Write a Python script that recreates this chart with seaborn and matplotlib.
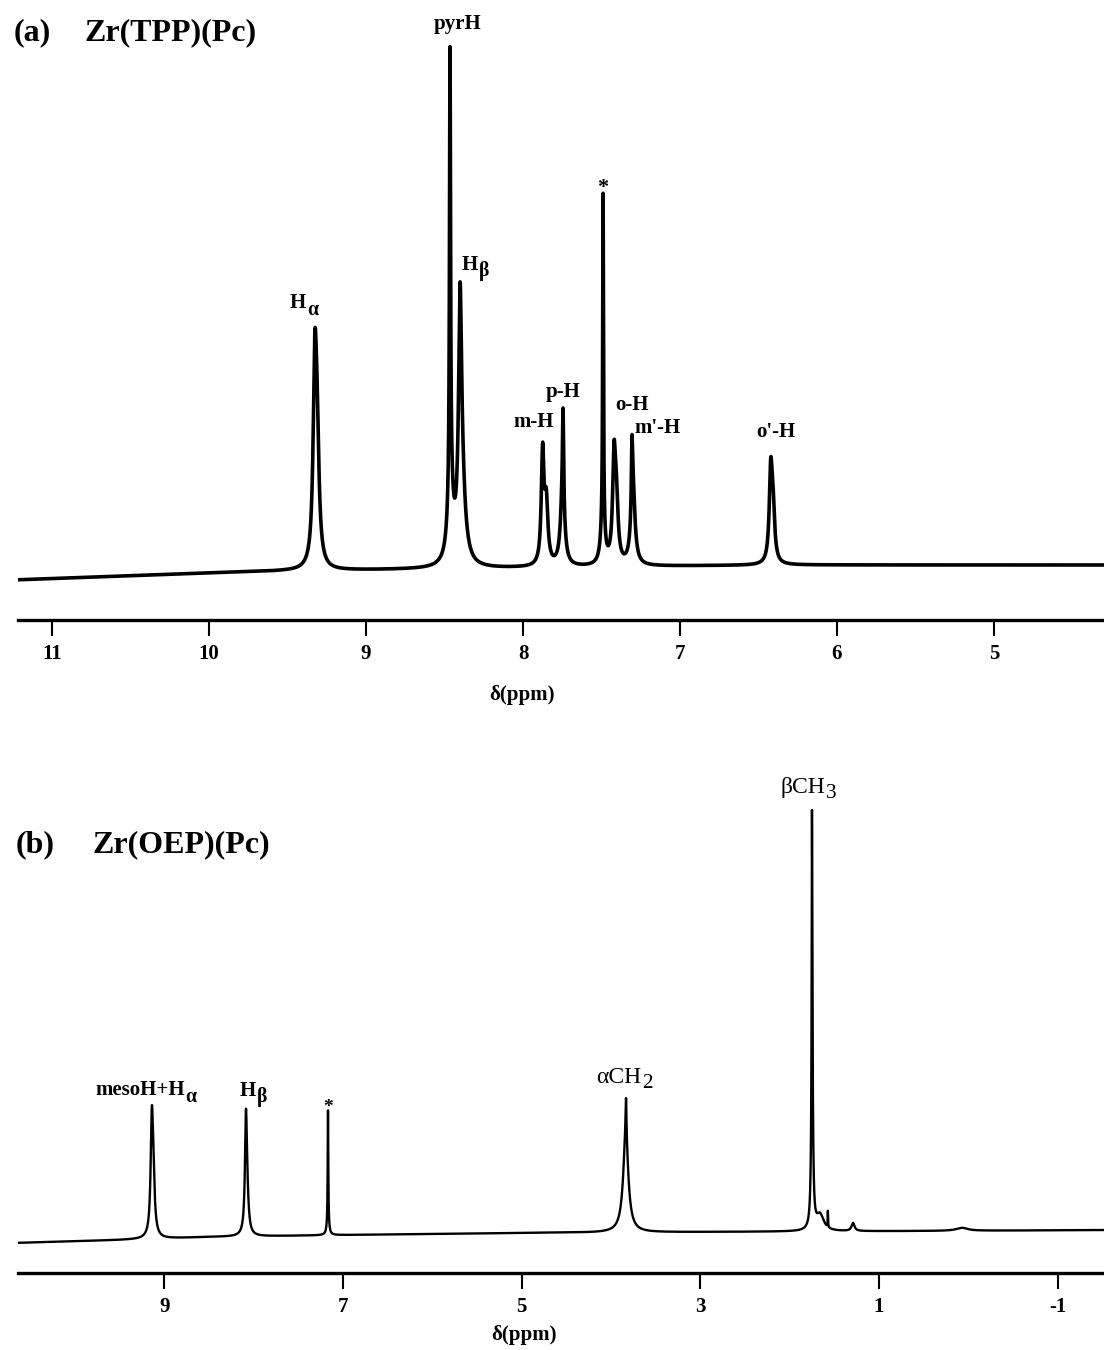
import numpy as np
import matplotlib
matplotlib.use("Agg")
import matplotlib.pyplot as plt
from matplotlib.transforms import IdentityTransform
import seaborn as sns

# ---------------- data ----------------
# (a) Zr(TPP)(Pc): peak components (ppm, amplitude, FWHM in ppm)
a_centers = [9.326, 9.312, 8.465, 8.462, 8.401, 8.390, 7.875, 7.852, 7.745, 7.748,
             7.490, 7.492, 7.420, 7.405, 7.306, 7.300, 6.422, 6.408]
a_heights = [180, 110, 440, 70, 215, 75, 110, 60, 85, 75,
             330, 40, 100, 55, 60, 80, 85, 50]
a_widths = [0.026, 0.030, 0.008, 0.040, 0.022, 0.050, 0.020, 0.025, 0.008, 0.030,
            0.006, 0.030, 0.022, 0.025, 0.008, 0.030, 0.022, 0.025]
a_base_ppm = [4.2, 6.3, 7.0, 8.0, 9.0, 9.5, 10.0, 11.25]
a_base_val = [1, 1, 0, -2, -4, -5, -7, -14]
a_ticks = [11, 10, 9, 8, 7, 6, 5]
a_ticklabels = ["11", "10", "9", "8", "7", "6", "5"]

# (b) Zr(OEP)(Pc)
b_centers = [9.142, 9.128, 8.088, 8.078, 7.169, 7.169, 3.835, 3.832,
             1.750, 1.748, 1.660, 1.572, 1.290, 0.070]
b_heights = [95, 55, 95, 40, 115, 10, 95, 40,
             220, 205, 16, 16, 8, 3]
b_widths = [0.030, 0.040, 0.025, 0.040, 0.008, 0.030, 0.070, 0.012,
            0.006, 0.020, 0.100, 0.005, 0.040, 0.150]
b_base_ppm = [-1.6, 0.5, 3.0, 5.0, 7.0, 8.5, 9.5, 10.7]
b_base_val = [2, 1, 0, -1, -3, -5, -8, -11]
b_ticks = [9, 7, 5, 3, 1, -1]
b_ticklabels = ["9", "7", "5", "3", "1", "-1"]


def lorentz(x, x0, w):
    return 1.0 / (1.0 + ((x - x0) / (w / 2.0)) ** 2)


def spectrum(grid, centers, heights, widths, bppm, bval):
    y = np.interp(grid, bppm, bval)
    for c, h, w in zip(centers, heights, widths):
        y = y + h * lorentz(grid, c, w)
    return y


# ---------------- style ----------------
sns.set_theme(style="white")
plt.rcParams["font.family"] = ["Liberation Serif", "DejaVu Serif"]
plt.rcParams["text.color"] = "black"

W, H = 1104, 1350
fig = plt.figure(figsize=(W / 100, H / 100), dpi=100)
fig.patch.set_facecolor("white")
renderer = fig.canvas.get_renderer()


def px_axes(x0, y0, x1, y1):
    return fig.add_axes([x0 / W, 1 - y1 / H, (x1 - x0) / W, (y1 - y0) / H])


def style_axis(ax, ticks, labels):
    for s in ["left", "right", "top"]:
        ax.spines[s].set_visible(False)
    ax.spines["bottom"].set_linewidth(2.4)
    ax.spines["bottom"].set_color("black")
    ax.set_yticks([])
    ax.set_xticks(ticks)
    ax.set_xticklabels(labels, fontsize=15, fontweight="bold")
    ax.tick_params(axis="x", direction="out", length=11.5, width=1.5,
                   color="black", pad=6, labelcolor="black", bottom=True)
    ax.set_facecolor("none")
    ax.set_xlabel("")
    ax.set_ylabel("")
    ax.grid(False)


def sub_label(ax, x, y, main, sub, fs, weight="bold", ha="left",
              dy=7, sub_scale=0.95):
    """main text with a large, lowered subscript (as in the original figure)"""
    t = ax.text(x, y, main, ha="left", va="baseline", fontsize=fs,
                fontweight=weight, color="black")
    bb = t.get_window_extent(renderer)
    s = ax.text(bb.x1 + 1, 0, sub, ha="left", va="baseline",
                fontsize=fs * sub_scale, fontweight=weight, color="black",
                transform=IdentityTransform())
    sb = s.get_window_extent(renderer)
    xd, yd = ax.transData.transform((x, y))
    shift = 0.0
    if ha == "center":
        shift = (sb.x1 - bb.x0) / 2.0
    t.set_transform(IdentityTransform())
    t.set_position((xd - shift, yd))
    s.set_position((bb.x1 + 1 - shift, yd - dy))


# ---------- panel (a) ----------
axa = px_axes(18, 0, W, 620)
xa_lo, xa_hi = 4.299, 11.217
grid_a = np.linspace(xa_hi, xa_lo, 30000)
ya = spectrum(grid_a, a_centers, a_heights, a_widths, a_base_ppm, a_base_val)
sns.lineplot(x=grid_a, y=ya, ax=axa, color="black", linewidth=2.6,
             estimator=None, sort=False)
axa.set_xlim(xa_hi, xa_lo)
axa.set_ylim(-54, 566)
style_axis(axa, a_ticks, a_ticklabels)

lab_kw = dict(fontsize=15, fontweight="bold", color="black")
axa.text(8.414, 542, "pyrH", ha="center", va="center", **lab_kw)
sub_label(axa, 8.389, 296, "H", "β", 15, dy=6)
sub_label(axa, 9.484, 258, "H", "α", 15, dy=7)
axa.text(7.93, 139, "m-H", ha="center", va="baseline", **lab_kw)
axa.text(7.745, 169, "p-H", ha="center", va="baseline", **lab_kw)
axa.text(7.306, 156, "o-H", ha="center", va="baseline", **lab_kw)
axa.text(7.14, 133, "m'-H", ha="center", va="baseline", **lab_kw)
axa.text(6.389, 129, "o'-H", ha="center", va="baseline", **lab_kw)
axa.text(7.49, 378, "*", ha="center", va="center", fontsize=16,
         fontweight="bold", color="black")

# ---------- panel (b) ----------
axb = px_axes(18, 720, W, 1273)
xb_lo, xb_hi = -1.52, 10.64
grid_b = np.linspace(xb_hi, xb_lo, 40000)
yb = spectrum(grid_b, b_centers, b_heights, b_widths, b_base_ppm, b_base_val)
sns.lineplot(x=grid_b, y=yb, ax=axb, color="black", linewidth=1.7,
             estimator=None, sort=False)
axb.set_xlim(xb_hi, xb_lo)
axb.set_ylim(-41, 512)
style_axis(axb, b_ticks, b_ticklabels)

sub_label(axb, 9.778, 137, "mesoH+H", "α", 15, dy=7)
sub_label(axb, 8.154, 136, "H", "β", 15, dy=6)
axb.text(7.169, 124, "*", ha="center", va="center", fontsize=14,
         fontweight="bold", color="black")
sub_label(axb, 4.168, 149, "αCH", "2", 17, weight="normal", dy=5, sub_scale=0.9)
sub_label(axb, 2.107, 439, "βCH", "3", 17, weight="normal", dy=5, sub_scale=0.9)

# ---------- titles and axis labels (figure pixel positions) ----------
def ftext(x, y, s, **kw):
    fig.text(x / W, 1 - y / H, s, color="black", **kw)

title_kw = dict(fontsize=23, fontweight="bold", va="center", ha="left")
ftext(14, 33, "(a)", **title_kw)
ftext(84, 33, "Zr(TPP)(Pc)", **title_kw)
ftext(16, 845, "(b)", **title_kw)
ftext(92, 845, "Zr(OEP)(Pc)", **title_kw)

ftext(522, 695, "δ(ppm)", fontsize=15, fontweight="bold", ha="center", va="center")
ftext(524, 1335, "δ(ppm)", fontsize=15, fontweight="bold", ha="center", va="center")

fig.savefig("out.png", dpi=100, facecolor="white")
